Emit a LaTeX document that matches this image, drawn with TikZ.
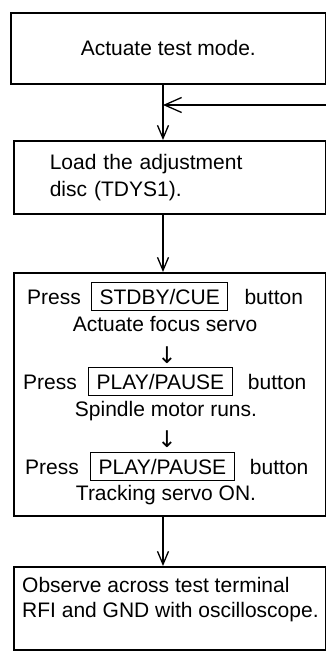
\documentclass[tikz,border=0pt]{standalone}
\usepackage{fontspec}
\setmainfont{Liberation Sans}
\newfontfamily\arrowfont{DejaVu Sans}
\usetikzlibrary{arrows.meta,positioning}
\tikzset{
  stepbox/.style={draw, line width=1.6pt, inner sep=0pt, anchor=north west},
  keybox/.style={draw, line width=1.1pt, inner xsep=8pt, inner ysep=6.5pt, text height=15pt, text depth=0pt},
  txt/.style={inner sep=0pt, text height=15pt, text depth=0pt},
  downmark/.style={inner sep=0pt, anchor=base, font=\arrowfont\fontsize{23}{23}\selectfont},
  ar/.style={-{Straight Barb[length=13pt,width=11pt]}, line width=1.3pt},
  arbig/.style={-{Straight Barb[length=17pt,width=15pt]}, line width=1.3pt},
}

\begin{document}
\begin{tikzpicture}[x=1pt, y=-1pt, font=\fontsize{21}{27}\selectfont]
  \clip (0,0) rectangle (326,652);
  % the four steps
  \node[stepbox, minimum width=315pt, minimum height=71pt] (mode) at (10,12) {Actuate test mode.};
  \node[stepbox, minimum width=312pt, minimum height=73pt, text width=240pt, align=left, inner xsep=36pt] (disc) at (13,140) {Load the adjustment\\disc (TDYS1).};
  \node[stepbox, minimum width=312pt, minimum height=243pt] (servo) at (13,272) {};
  \node[stepbox, minimum width=312pt, minimum height=83pt] (scope) at (13,566) {};

  % inside the servo box
  \node[txt, anchor=base west] (press1) at (27,304) {Press};
  \node[keybox, right=10pt of press1] (cue) {STDBY/CUE};
  \node[txt, right=16pt of cue] (btn1) {button};
  \node[txt, anchor=base] (focus) at (165,331) {Actuate focus servo};
  \node[downmark] (down1) at (167,363) {↓};
  \node[txt, anchor=base west] (press2) at (23,389) {Press};
  \node[keybox, right=11pt of press2] (play1) {PLAY/PAUSE};
  \node[txt, right=15pt of play1] (btn2) {button};
  \node[txt, anchor=base] (spindle) at (166,416) {Spindle motor runs.};
  \node[downmark] (down2) at (167,447) {↓};
  \node[txt, anchor=base west] (press3) at (25,474) {Press};
  \node[keybox, right=11pt of press3] (play2) {PLAY/PAUSE};
  \node[txt, right=15pt of play2] (btn3) {button};
  \node[txt, anchor=base] (track) at (166,500) {Tracking servo ON.};

  % last box text
  \node[txt, anchor=base west] (obs1) at (22,592) {Observe across test terminal};
  \node[txt, anchor=base west] (obs2) at (22,617) {RFI and GND with oscilloscope.};

  % connectors
  \coordinate (spine) at (163,0);
  \coordinate (loopin) at (330,105);
  \draw[ar] (mode.south -| spine) -- (disc.north -| spine);
  \draw[arbig] (loopin) -- (loopin -| spine);
  \draw[ar] (disc.south -| spine) -- (servo.north -| spine);
  \draw[ar] (servo.south -| spine) -- (scope.north -| spine);
\end{tikzpicture}
\end{document}
